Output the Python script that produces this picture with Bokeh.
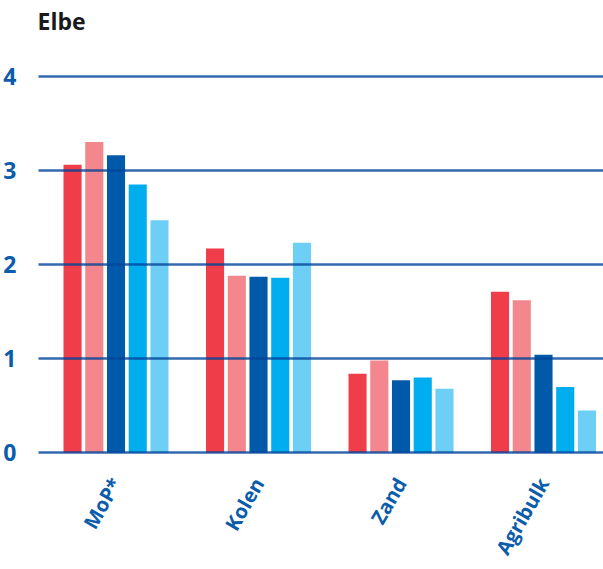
from math import pi

from bokeh.embed import file_html
from bokeh.models import ColumnDataSource, FixedTicker, Range1d
from bokeh.plotting import figure
from bokeh.resources import INLINE
from bokeh.transform import dodge

# Cargo categories and values per series (five series per category)
categories = ["MoP*", "Kolen", "Zand", "Agribulk"]
serie_1 = [3.06, 2.17, 0.84, 1.71]
serie_2 = [3.30, 1.88, 0.98, 1.62]
serie_3 = [3.16, 1.87, 0.77, 1.04]
serie_4 = [2.85, 1.86, 0.80, 0.70]
serie_5 = [2.47, 2.23, 0.68, 0.45]
y_ticks = [0, 1, 2, 3, 4]

series = [serie_1, serie_2, serie_3, serie_4, serie_5]
colors = ["#ef3e4a", "#f3878d", "#005aa9", "#00aeef", "#6dcff6"]
offsets = [-0.305, -0.1525, 0.0, 0.1525, 0.305]

BLUE = "#0b5cab"
FONT = "Open Sans"

src = ColumnDataSource(dict(
    x=list(range(len(categories))),
    **{f"s{i}": vals for i, vals in enumerate(series)},
))

p = figure(
    width=603, height=569,
    x_range=Range1d(-0.544, 3.421), y_range=Range1d(-0.05, 4.4),
    output_backend="svg", toolbar_location=None,
    min_border_left=38, min_border_right=0,
    min_border_top=37, min_border_bottom=112,
)
p.outline_line_color = None
p.background_fill_color = "white"
p.border_fill_color = "white"

p.title.text = "Elbe"
p.title.align = "left"
p.title.offset = -1
p.title.standoff = 4
p.title.text_font = FONT
p.title.text_font_style = "bold"
p.title.text_font_size = "23px"
p.title.text_color = "#1a1a1a"

for i, (col, off) in enumerate(zip(colors, offsets)):
    p.vbar(x=dodge("x", off), top=f"s{i}", bottom=0, width=0.127,
           source=src, fill_color=col, line_color=None)

# y axis and horizontal grid (grid drawn on top of bars)
p.yaxis.ticker = FixedTicker(ticks=y_ticks)
p.yaxis.axis_line_color = None
p.yaxis.major_tick_line_color = None
p.yaxis.minor_tick_line_color = None
p.yaxis.major_label_standoff = 16
p.yaxis.major_label_text_font = FONT
p.yaxis.major_label_text_font_style = "bold"
p.yaxis.major_label_text_font_size = "23px"
p.yaxis.major_label_text_color = BLUE

p.ygrid.ticker = FixedTicker(ticks=y_ticks)
p.ygrid.grid_line_color = "#00439a"
p.ygrid.grid_line_alpha = 0.8
p.ygrid.grid_line_width = 2.5
p.ygrid.level = "overlay"
p.xgrid.grid_line_color = None

# x axis with rotated category names
p.xaxis.ticker = FixedTicker(ticks=list(range(len(categories))))
p.xaxis.major_label_overrides = {i: c for i, c in enumerate(categories)}
p.xaxis.major_label_orientation = pi / 3
p.xaxis.axis_line_color = None
p.xaxis.major_tick_line_color = None
p.xaxis.minor_tick_line_color = None
p.xaxis.major_label_standoff = 16
p.xaxis.major_label_text_font = FONT
p.xaxis.major_label_text_font_style = "bold"
p.xaxis.major_label_text_font_size = "20px"
p.xaxis.major_label_text_color = BLUE

open("out.html", "w").write(file_html(p, INLINE))
